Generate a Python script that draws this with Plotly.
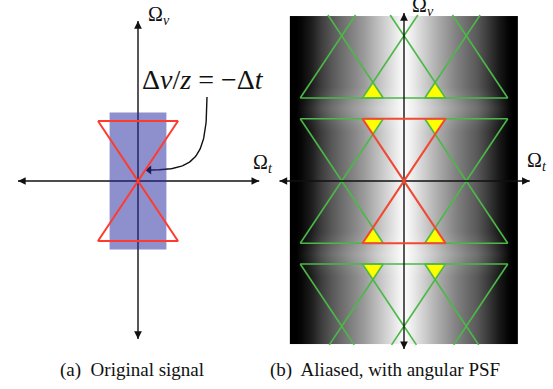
import plotly.graph_objects as go

# ---------------- data (units of Omega_t / Omega_v) ----------------
# hourglass (fan) spectrum: half-width in Omega_t and half-height in Omega_v
fan_halfwidth = 1.0
fan_halfheight = 1.5
# original signal box (blue) half extents
box_t = 0.71
box_v = 1.71
# sampling lattice of replicas (right panel)
replica_t = [-1.5, 0.0, 1.5]
replica_v = [-3.5, 0.0, 3.5]
# visible extent of the PSF image (right panel)
img_t = 2.75
img_v = [-3.95, 4.0]
# angular PSF gray level vs |Omega_t|
psf_t = [0.0, 0.25, 0.5, 0.75, 1.0, 1.25, 1.5, 1.75, 2.0, 2.25, 2.5, 2.6, 2.7]
psf_row = [1.0, 0.9, 0.8, 0.7, 0.6, 0.51, 0.43, 0.35, 0.24, 0.11, 0.02, 0.0, 0.0]
psf_band = [1.0, 0.93, 0.85, 0.77, 0.68, 0.6, 0.52, 0.44, 0.33, 0.19, 0.05, 0.0, 0.0]
psf_rows_v = [-3.9, -3.85, -2.3, -1.75, -1.2, 1.2, 1.75, 2.3, 3.9, 3.95]
psf_rows_kind = ["row", "row", "row", "band", "row", "row", "band", "row", "row", "row"]
# axis extents
axis_t = [-3.0, 3.03]
axis_v_left = [-3.95, 4.0]
axis_v_right = [-4.05, 4.05]
# curved arrow control points (left panel)
curve_t = [1.725, 1.725, 1.45, 0.32]
curve_v = [2.1, 0.6, 0.275, 0.275]
# labels
eq_label = "Δ<i>v</i>/<i>z</i> = −Δ<i>t</i>"
eq_pos = (1.625, 2.53)
captions = ["(a)  Original signal", "(b)  Aliased, with angular PSF"]

# ---------------- geometry helpers ----------------
BLACK = "#111111"
GREEN = "#4cb848"
RED_L = "#ff3b30"
RED_R = "#f04a34"
YELLOW = "#ffff00"
SERIF = "Liberation Serif, Times New Roman, serif"


def fan_poly(c=0.0, v0=0.0):
    w, h = fan_halfwidth, fan_halfheight
    t = [c - w, c + w, c, c + w, c - w, c, c - w]
    v = [v0 + h, v0 + h, v0, v0 - h, v0 - h, v0, v0 + h]
    return t, v


def clip_seg(p, q, lo, hi):
    (t1, v1), (t2, v2) = p, q
    if v1 == v2:
        return (p, q) if lo <= v1 <= hi else None
    a0, a1 = 0.0, 1.0
    for bound in (lo, hi):
        s = (bound - v1) / (v2 - v1)
        if (v2 - v1) > 0:
            if bound == lo:
                a0 = max(a0, s)
            else:
                a1 = min(a1, s)
        else:
            if bound == lo:
                a1 = min(a1, s)
            else:
                a0 = max(a0, s)
    if a0 >= a1:
        return None
    return ((t1 + a0 * (t2 - t1), v1 + a0 * (v2 - v1)),
            (t1 + a1 * (t2 - t1), v1 + a1 * (v2 - v1)))


def fan_segments(c, v0):
    w, h = fan_halfwidth, fan_halfheight
    segs = []
    for s in (1, -1):
        segs.append(((c, v0), (c - w, v0 + s * h)))
        segs.append(((c, v0), (c + w, v0 + s * h)))
        segs.append(((c - w, v0 + s * h), (c + w, v0 + s * h)))
    return segs


fig = go.Figure()

# ================= LEFT PANEL =================
# axis lines (drawn below the box so they look navy through it)
fig.add_trace(go.Scatter(x=[axis_t[0], axis_t[1], None, 0, 0],
                         y=[0, 0, None, axis_v_left[0], axis_v_left[1]],
                         mode="lines", line=dict(color=BLACK, width=1.4),
                         xaxis="x", yaxis="y", hoverinfo="skip"))
# curved arrow (cubic bezier)
bt, bv = [], []
n = 60
for i in range(n + 1):
    u = i / n
    b = [(1 - u) ** 3, 3 * u * (1 - u) ** 2, 3 * u ** 2 * (1 - u), u ** 3]
    bt.append(sum(bi * ti for bi, ti in zip(b, curve_t)))
    bv.append(sum(bi * vi for bi, vi in zip(b, curve_v)))
fig.add_trace(go.Scatter(x=bt, y=bv, mode="lines",
                         line=dict(color=BLACK, width=1.4),
                         xaxis="x", yaxis="y", hoverinfo="skip"))
fig.add_trace(go.Scatter(x=[curve_t[-1] - 0.04], y=[curve_v[-1]], mode="markers",
                         marker=dict(symbol="triangle-left", size=8, color=BLACK),
                         xaxis="x", yaxis="y", hoverinfo="skip"))
# blue box
fig.add_trace(go.Scatter(x=[-box_t, box_t, box_t, -box_t, -box_t],
                         y=[-box_v, -box_v, box_v, box_v, -box_v],
                         mode="lines", fill="toself", line=dict(width=0),
                         fillcolor="rgba(38,40,160,0.52)",
                         xaxis="x", yaxis="y", hoverinfo="skip"))
# red hourglass
ft, fv = fan_poly()
fig.add_trace(go.Scatter(x=ft, y=fv, mode="lines",
                         line=dict(color=RED_L, width=2),
                         xaxis="x", yaxis="y", hoverinfo="skip"))

# ================= RIGHT PANEL =================
xs = [-t for t in psf_t[::-1]] + psf_t[1:]
z = []
for kind in psf_rows_kind:
    prof = psf_row if kind == "row" else psf_band
    z.append(prof[::-1] + prof[1:])
fig.add_trace(go.Heatmap(x=xs, y=psf_rows_v, z=z, zsmooth="best",
                         colorscale=[[0, "black"], [1, "white"]], zmin=0, zmax=1,
                         showscale=False, xaxis="x2", yaxis="y2", hoverinfo="skip"))

# yellow overlap triangles between neighbouring replicas
d = replica_t[1] - replica_t[0]
w, h = fan_halfwidth, fan_halfheight
for v0 in replica_v:
    for c1, c2 in zip(replica_t[:-1], replica_t[1:]):
        for s in (1, -1):
            apex_v = v0 + s * h * (d / 2) / w
            base_v = v0 + s * h
            if not (img_v[0] <= min(apex_v, base_v) and max(apex_v, base_v) <= img_v[1]):
                continue
            tx = [c1 + d / 2, c2 - w, c1 + w, c1 + d / 2]
            ty = [apex_v, base_v, base_v, apex_v]
            fig.add_trace(go.Scatter(x=tx, y=ty, mode="lines", fill="toself",
                                     fillcolor=YELLOW, line=dict(width=0.5, color="#e6e600"),
                                     xaxis="x2", yaxis="y2", hoverinfo="skip"))

# green replicas
gx, gy = [], []
for v0 in replica_v:
    for c in replica_t:
        if c == 0 and v0 == 0:
            continue
        for p, q in fan_segments(c, v0):
            cs = clip_seg(p, q, img_v[0], img_v[1])
            if cs:
                gx += [cs[0][0], cs[1][0], None]
                gy += [cs[0][1], cs[1][1], None]
fig.add_trace(go.Scatter(x=gx, y=gy, mode="lines", line=dict(color=GREEN, width=1.6),
                         xaxis="x2", yaxis="y2", hoverinfo="skip"))

# axis lines right
fig.add_trace(go.Scatter(x=[axis_t[0], axis_t[1], None, 0, 0],
                         y=[0, 0, None, axis_v_right[0], axis_v_right[1]],
                         mode="lines", line=dict(color=BLACK, width=1.4),
                         xaxis="x2", yaxis="y2", hoverinfo="skip"))
# red original spectrum
fig.add_trace(go.Scatter(x=ft, y=fv, mode="lines",
                         line=dict(color=RED_R, width=2.2),
                         xaxis="x2", yaxis="y2", hoverinfo="skip"))

# ================= arrowheads and labels =================
ann = []


def head(xr, yr, tip, back):
    ann.append(dict(x=tip[0], y=tip[1], ax=back[0], ay=back[1], xref=xr, yref=yr,
                    axref=xr, ayref=yr, text="", showarrow=True, arrowhead=2,
                    arrowsize=1.1, arrowwidth=1.4, arrowcolor=BLACK, standoff=0))


for xr, yr, av in (("x", "y", axis_v_left), ("x2", "y2", axis_v_right)):
    head(xr, yr, (axis_t[0], 0), (axis_t[0] + 0.15, 0))
    head(xr, yr, (axis_t[1], 0), (axis_t[1] - 0.15, 0))
    head(xr, yr, (0, av[0]), (0, av[0] + 0.15))
    head(xr, yr, (0, av[1]), (0, av[1] - 0.15))

lab_font = dict(family=SERIF, size=20, color=BLACK)
ann += [
    dict(x=0.52, y=4.15, xref="x", yref="y", text="Ω<sub><i>v</i></sub>",
         showarrow=False, font=lab_font),
    dict(x=3.13, y=0.45, xref="x", yref="y", text="Ω<sub><i>t</i></sub>",
         showarrow=False, font=lab_font),
    dict(x=0.45, y=4.2, xref="x2", yref="y2", text="Ω<sub><i>v</i></sub>",
         showarrow=False, font=lab_font),
    dict(x=3.2, y=0.46, xref="x2", yref="y2", text="Ω<sub><i>t</i></sub>",
         showarrow=False, font=lab_font),
    dict(x=eq_pos[0], y=eq_pos[1], xref="x", yref="y", text=eq_label,
         showarrow=False, font=dict(family=SERIF, size=28, color=BLACK)),
    dict(x=132 / 553, y=1 - 370 / 389, xref="paper", yref="paper", text=captions[0],
         xanchor="center", yanchor="middle",
         showarrow=False, font=dict(family=SERIF, size=19, color=BLACK)),
    dict(x=385 / 553, y=1 - 370 / 389, xref="paper", yref="paper", text=captions[1],
         xanchor="center", yanchor="middle",
         showarrow=False, font=dict(family=SERIF, size=19, color=BLACK)),
]

W, H = 553, 389
split = 276.5
oxl, sl = 138.0, 40.0    # left origin pixel x, pixels per unit
oxr, sr = 404.0, 41.5    # right origin
oy = 181.0
ax_common = dict(visible=False, showgrid=False, zeroline=False, fixedrange=True)
fig.update_layout(
    width=W, height=H, margin=dict(l=0, r=0, t=0, b=0),
    paper_bgcolor="white", plot_bgcolor="rgba(0,0,0,0)", showlegend=False,
    xaxis=dict(domain=[0, split / W], range=[(0 - oxl) / sl, (split - oxl) / sl], **ax_common),
    yaxis=dict(domain=[0, 1], range=[(oy - H) / sl, oy / sl], **ax_common),
    xaxis2=dict(domain=[split / W, 1], range=[(split - oxr) / sr, (W - oxr) / sr], **ax_common),
    yaxis2=dict(domain=[0, 1], range=[(oy - H) / sr, oy / sr], **ax_common),
    annotations=ann,
)
fig.update_layout(yaxis2=dict(anchor="x2"), xaxis2=dict(anchor="y2"))

fig.write_html("out.html", config={"displayModeBar": False},
               post_script="document.body.style.margin='0';document.body.style.overflow='hidden';")
